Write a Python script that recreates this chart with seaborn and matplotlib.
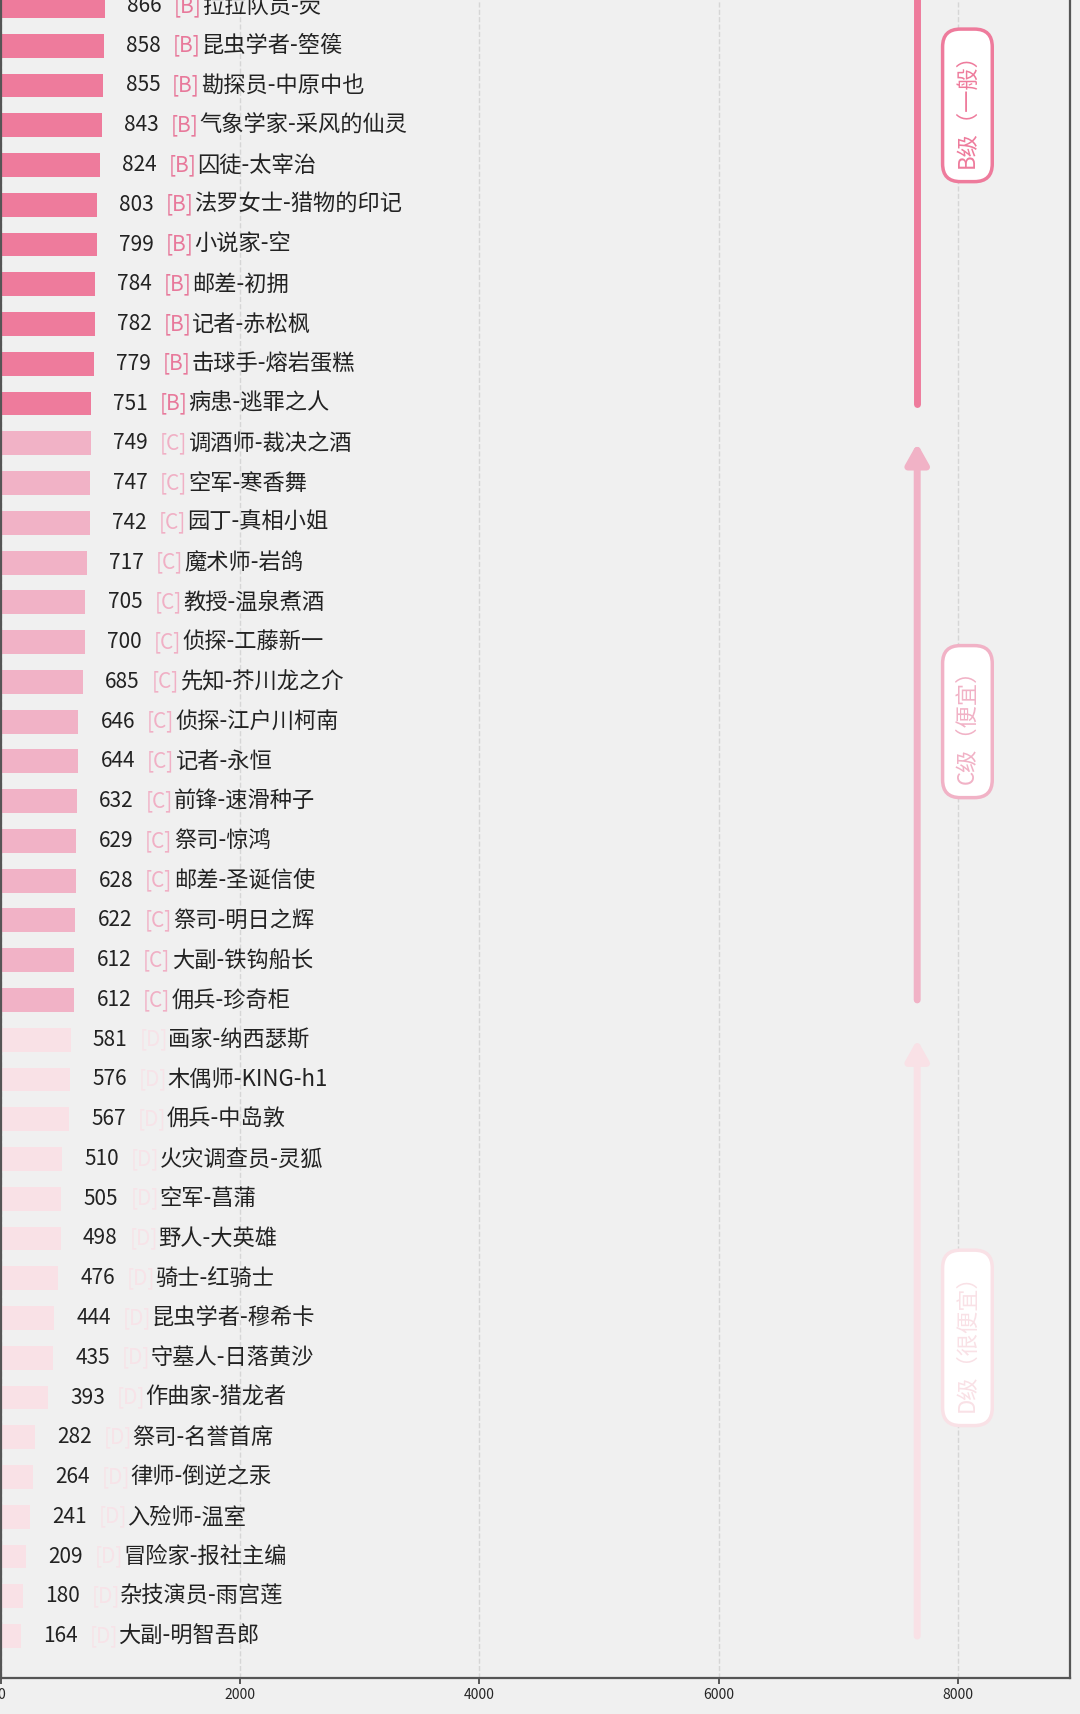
import matplotlib
matplotlib.use("Agg")
import matplotlib.pyplot as plt
import seaborn as sns
import pandas as pd

# ✅ 数据
names = [
    "拉拉队员-荧", "昆虫学者-箜篌", "勘探员-中原中也", "气象学家-采风的仙灵", "囚徒-太宰治",
    "法罗女士-猎物的印记", "小说家-空", "邮差-初拥", "记者-赤松枫", "击球手-熔岩蛋糕",
    "病患-逃罪之人",
    "调酒师-裁决之酒", "空军-寒香舞", "园丁-真相小姐", "魔术师-岩鸽", "教授-温泉煮酒",
    "侦探-工藤新一", "先知-芥川龙之介", "侦探-江户川柯南", "记者-永恒", "前锋-速滑种子",
    "祭司-惊鸿", "邮差-圣诞信使", "祭司-明日之辉", "大副-铁钩船长", "佣兵-珍奇柜",
    "画家-纳西瑟斯", "木偶师-KING-h1", "佣兵-中岛敦", "火灾调查员-灵狐", "空军-菖蒲",
    "野人-大英雄", "骑士-红骑士", "昆虫学者-穆希卡", "守墓人-日落黄沙", "作曲家-猎龙者",
    "祭司-名誉首席", "律师-倒逆之汞", "入殓师-温室", "冒险家-报社主编", "杂技演员-雨宫莲",
    "大副-明智吾郎",
]
values = [
    866, 858, 855, 843, 824, 803, 799, 784, 782, 779, 751,
    749, 747, 742, 717, 705, 700, 685, 646, 644, 632, 629, 628, 622, 612, 612,
    581, 576, 567, 510, 505, 498, 476, 444, 435, 393, 282, 264, 241, 209, 180, 164,
]
grades = ["B"] * 11 + ["C"] * 15 + ["D"] * 16

grade_order = ["B", "C", "D"]
grade_titles = ["B级（一般）", "C级（便宜）", "D级（很便宜）"]
grade_colors = ["#ee7b9c", "#f1b2c6", "#f9e1e6"]
tag_colors = ["#e8799b", "#f0b0c5", "#f7e3e8"]

df = pd.DataFrame({"name": names, "value": values, "grade": grades})
df["row"] = [f"{i}" for i in range(len(df))]

# ✅ 样式
sns.set_theme(style="white")
plt.rcParams["font.family"] = ["Noto Sans CJK SC", "DejaVu Sans"]
bg = "#f0f0f0"

fig = plt.figure(figsize=(10.8, 17.14), dpi=100, facecolor=bg)
ax = fig.add_axes([0.001, 0.021, 0.990, 0.979])
ax.set_facecolor(bg)

sns.barplot(data=df, x="value", y="row", hue="grade", hue_order=grade_order,
            palette=dict(zip(grade_order, grade_colors)), dodge=False,
            width=0.6, orient="h", legend=False, ax=ax, saturation=1,
            linewidth=0, edgecolor="none")

ax.set_xlim(0, 8940)
ax.set_ylim(len(df) - 1 + 1.055, -0.15)
ax.set_xticks([0, 2000, 4000, 6000, 8000])
ax.tick_params(axis="x", labelsize=10, length=4, color="#444", direction="out", bottom=True)
ax.set_yticks([])
ax.set_xlabel("")
ax.set_ylabel("")
ax.grid(axis="x", linestyle="--", color="#d6d6d6", lw=1)
ax.set_axisbelow(True)
for side in ["left", "right", "bottom"]:
    ax.spines[side].set_color("#555555")
    ax.spines[side].set_linewidth(1.6)
ax.spines["top"].set_visible(False)

# ✅ 数值 + 等级标签 + 名称
tag_map = dict(zip(grade_order, tag_colors))
for i, (n, v, g) in enumerate(zip(names, values, grades)):
    ax.text(v + 476, i, str(v), ha="right", va="center", fontsize=15, color="#222")
    ax.text(v + 576, i, f"[{g}]", ha="left", va="center", fontsize=15, color=tag_map[g])
    ax.text(v + 815, i, n, ha="left", va="center", fontsize=16, color="#222")

# ✅ 右侧分级箭头与标签
arrow_x = 7660
label_x = 8080
rows = list(range(len(df)))
for g, title, col in zip(grade_order, grade_titles, grade_colors):
    idx = [r for r, gg in zip(rows, grades) if gg == g]
    top, bot = idx[0], idx[-1]
    if g == "B":
        ax.plot([arrow_x, arrow_x], [-3, bot], color=col, lw=5, solid_capstyle="round", zorder=3)
        center = 2.5
    else:
        ax.annotate("", xy=(arrow_x, top), xytext=(arrow_x, bot),
                    arrowprops=dict(arrowstyle="-|>,head_length=0.8,head_width=0.45",
                                    color=col, lw=5, capstyle="round", joinstyle="round",
                                    shrinkA=0, shrinkB=0, mutation_scale=15))
        center = (top + bot) / 2
    ax.text(label_x, center, title, rotation=90, ha="center", va="center",
            fontsize=16, color=col, zorder=4,
            bbox=dict(boxstyle="round,pad=0.6,rounding_size=0.8", fc="white",
                      ec=col, lw=2.5))

plt.savefig("out.png", dpi=100, facecolor=bg)
plt.close()
